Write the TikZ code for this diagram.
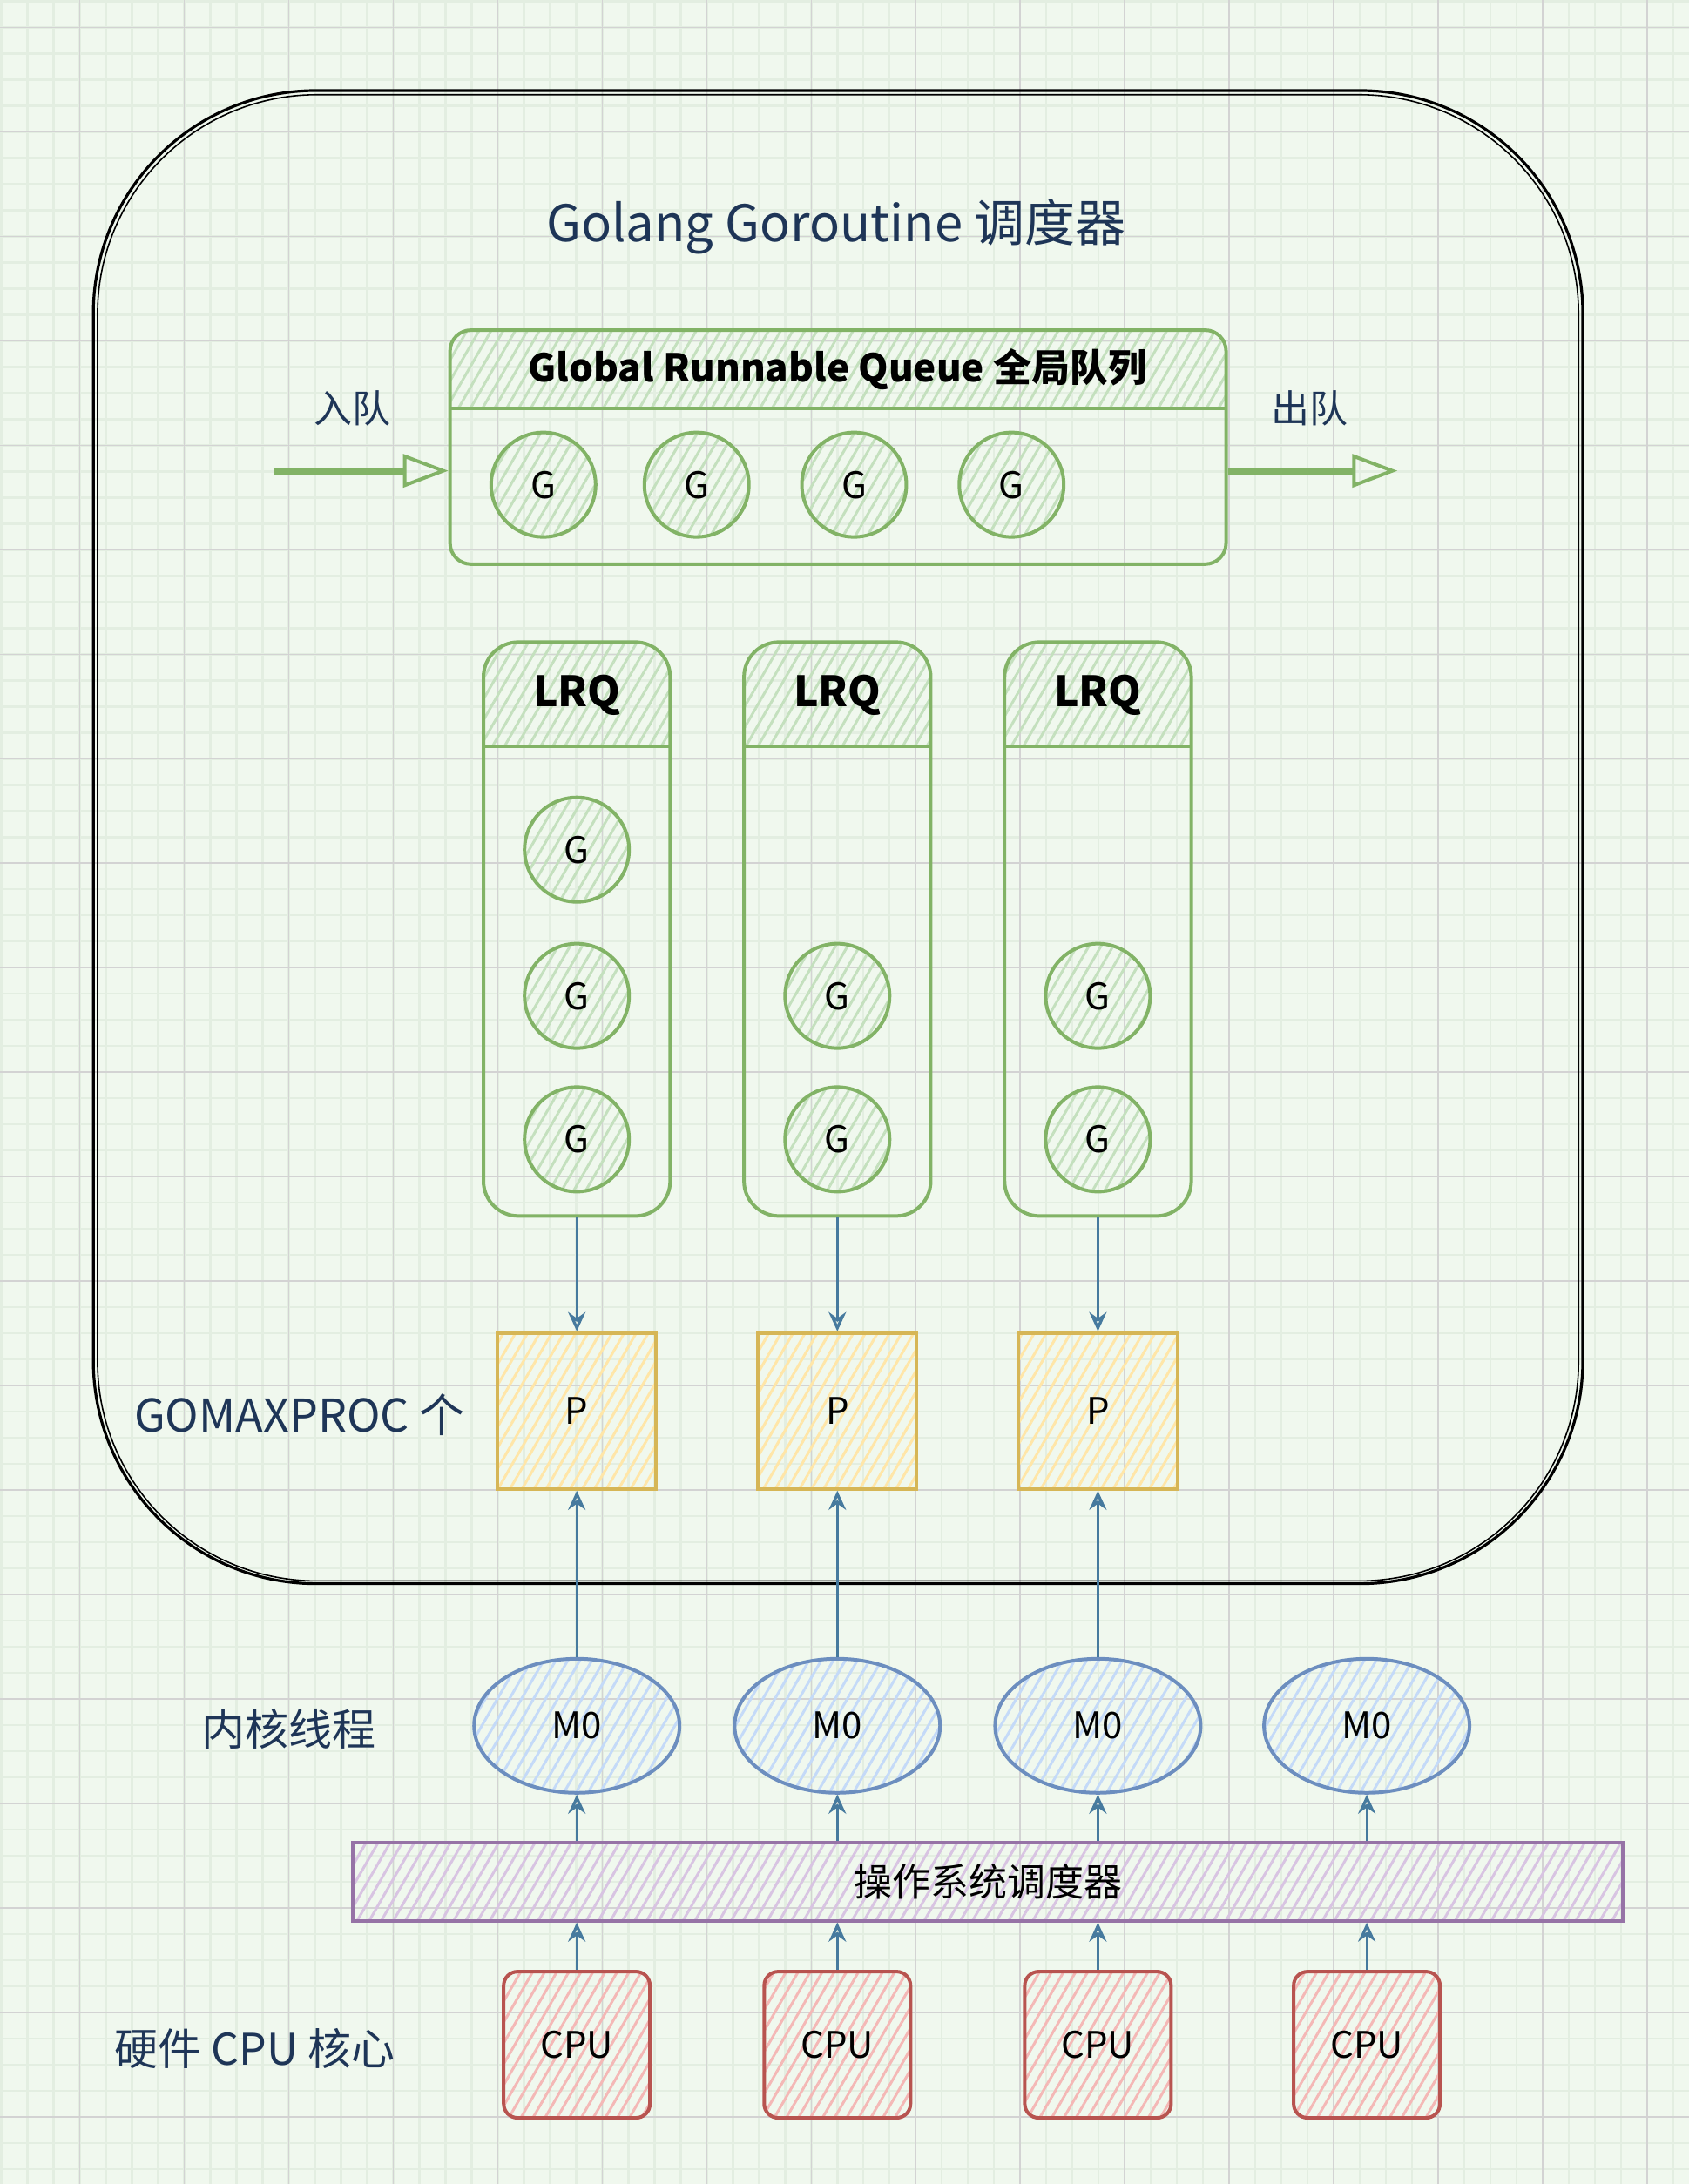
\documentclass[tikz,border=0pt]{standalone}
\usepackage{fontspec}
\setmainfont{Noto Sans CJK SC}
\usetikzlibrary{shapes.geometric,arrows.meta,patterns.meta}

\definecolor{paper}{RGB}{240,248,238}
\definecolor{minorgrid}{RGB}{227,238,225}
\definecolor{majorgrid}{RGB}{211,211,211}
\definecolor{navy}{RGB}{30,53,87}
\definecolor{gline}{RGB}{130,179,102}
\definecolor{gfill}{RGB}{196,224,190}
\definecolor{yline}{RGB}{214,182,86}
\definecolor{yfill}{RGB}{255,230,168}
\definecolor{bline}{RGB}{108,142,191}
\definecolor{bfill}{RGB}{196,218,248}
\definecolor{rline}{RGB}{184,84,80}
\definecolor{rfill}{RGB}{244,184,182}
\definecolor{pline}{RGB}{150,115,166}
\definecolor{pfill}{RGB}{216,196,226}
\definecolor{arrowblue}{RGB}{70,122,158}

\begin{document}
\begin{tikzpicture}[x=0.8pt, y=-0.8pt, thick,
    hatch/.style={pattern={Lines[angle=60,distance=6pt,line width=1.5pt]}},
    side text/.style={text=navy, font=\fontsize{22}{26}\selectfont},
    head text/.style={text=black, font=\fontsize{22}{26}\selectfont\bfseries},
    queue box/.style={draw=gline, line width=2pt, rounded corners=12pt,
                      minimum width=445.6pt, minimum height=134.4pt},
    lrq box/.style={draw=gline, line width=2pt, rounded corners=20pt,
                    minimum width=107.2pt, minimum height=329.6pt},
    g node/.style={circle, draw=gline, line width=2pt, hatch, pattern color=gfill,
                   minimum size=60pt, inner sep=0pt, font=\fontsize{21}{25}\selectfont},
    p node/.style={draw=yline, line width=2pt, hatch, pattern color=yfill,
                   minimum width=91.2pt, minimum height=89.6pt, font=\fontsize{21}{25}\selectfont},
    m node/.style={ellipse, draw=bline, line width=2pt, hatch, pattern color=bfill,
                   minimum width=118pt, minimum height=77pt, font=\fontsize{21}{25}\selectfont},
    os node/.style={draw=pline, line width=2pt, hatch, pattern color=pfill,
                    minimum width=729.6pt, minimum height=44.8pt, font=\fontsize{22}{26}\selectfont},
    cpu node/.style={draw=rline, line width=2pt, hatch, pattern color=rfill, rounded corners=8pt,
                     minimum width=84pt, minimum height=84pt, font=\fontsize{21}{25}\selectfont},
    link/.style={draw=arrowblue, line width=1.6pt, -{Stealth[open, length=11pt, width=10pt]}},
    queue arrow/.style={draw=gline, line width=4pt,
                        -{Triangle[open, length=26pt, width=19pt, line width=2pt]}}]

  % paper and grid
  \useasboundingbox (0,0) rectangle (1212,1568);
  \fill[paper] (0,0) rectangle (1212,1568);
  \foreach \i in {0,...,64} \draw[minorgrid, line width=1.2pt] ({1+18.75*\i},0) -- ({1+18.75*\i},1568);
  \foreach \i in {0,...,83} \draw[minorgrid, line width=1.2pt] (0,{1+18.75*\i}) -- (1212,{1+18.75*\i});
  \foreach \i in {0,...,15} \draw[majorgrid, line width=0.8pt] ({57.25+75*\i},0) -- ({57.25+75*\i},1568);
  \foreach \i in {0,...,20} \draw[majorgrid, line width=0.8pt] (0,{19.75+75*\i}) -- (1212,{19.75+75*\i});

  % scheduler frame
  \draw[black, line width=1.6pt, rounded corners=128pt] (67,65) rectangle (1136,1137);
  \draw[black, line width=0.8pt, rounded corners=126pt] (70,68) rectangle (1133,1135);
  \node[text=navy, font=\fontsize{29}{34}\selectfont] (title) at (600,163) {Golang Goroutine 调度器};

  % global queue
  \begin{scope}
    \clip[rounded corners=12pt] (323,237) rectangle (880,405);
    \path[hatch, pattern color=gfill] (323,237) rectangle (880,293);
  \end{scope}
  \node[queue box] (gq) at (601.5,321) {};
  \draw[gline, line width=2pt] (323,293) -- (880,293);
  \node[head text] (gqt) at (601,265) {Global Runnable Queue 全局队列};

  \node[g node] (g1) at (390,348) {G};
  \node[g node] (g2) at (500,348) {G};
  \node[g node] (g3) at (613,348) {G};
  \node[g node] (g4) at (726,348) {G};

  \node[side text] (enq) at (253,293) {入队};
  \node[side text] (deq) at (940,293) {出队};
  \coordinate (in) at (197,338);
  \coordinate (out) at (1003,338);
  \draw[queue arrow] (in) -- (in -| gq.west);
  \draw[queue arrow] (out -| gq.east) -- (out);

  % local run queues
  \begin{scope}
    \clip[rounded corners=20pt] (347,461) rectangle (481,873);
    \path[hatch, pattern color=gfill] (347,461) rectangle (481,536);
  \end{scope}
  \begin{scope}
    \clip[rounded corners=20pt] (534,461) rectangle (668,873);
    \path[hatch, pattern color=gfill] (534,461) rectangle (668,536);
  \end{scope}
  \begin{scope}
    \clip[rounded corners=20pt] (721,461) rectangle (855,873);
    \path[hatch, pattern color=gfill] (721,461) rectangle (855,536);
  \end{scope}
  \node[lrq box] (l1) at (414,667) {};
  \node[lrq box] (l2) at (601,667) {};
  \node[lrq box] (l3) at (788,667) {};
  \draw[gline, line width=2pt] (347,536) -- (481,536);
  \draw[gline, line width=2pt] (534,536) -- (668,536);
  \draw[gline, line width=2pt] (721,536) -- (855,536);
  \node[head text, font=\fontsize{24}{28}\selectfont\bfseries] (lt1) at (414,499) {LRQ};
  \node[head text, font=\fontsize{24}{28}\selectfont\bfseries] (lt2) at (601,499) {LRQ};
  \node[head text, font=\fontsize{24}{28}\selectfont\bfseries] (lt3) at (788,499) {LRQ};

  \node[g node] (lg11) at (414,610) {G};
  \node[g node] (lg12) at (414,715) {G};
  \node[g node] (lg13) at (414,818) {G};
  \node[g node] (lg22) at (601,715) {G};
  \node[g node] (lg23) at (601,818) {G};
  \node[g node] (lg32) at (788,715) {G};
  \node[g node] (lg33) at (788,818) {G};

  % processors
  \node[p node] (p1) at (414,1013) {P};
  \node[p node] (p2) at (601,1013) {P};
  \node[p node] (p3) at (788,1013) {P};
  \node[side text, font=\fontsize{26}{30}\selectfont] (gomax) at (215,1016) {GOMAXPROC 个};

  % kernel threads
  \node[m node] (m1) at (414,1239) {M0};
  \node[m node] (m2) at (601,1239) {M0};
  \node[m node] (m3) at (788,1239) {M0};
  \node[m node] (m4) at (981,1239) {M0};
  \node[side text, font=\fontsize{25}{30}\selectfont] (kt) at (207,1241) {内核线程};

  % os scheduler and cores
  \node[os node] (os) at (709,1351) {操作系统调度器};
  \node[cpu node] (c1) at (414,1468) {CPU};
  \node[cpu node] (c2) at (601,1468) {CPU};
  \node[cpu node] (c3) at (788,1468) {CPU};
  \node[cpu node] (c4) at (981,1468) {CPU};
  \node[side text, font=\fontsize{25}{30}\selectfont] (hw) at (183,1471) {硬件 CPU 核心};

  \path
  (l1) edge[link] (p1)
  (l2) edge[link] (p2)
  (l3) edge[link] (p3)
  (m1) edge[link] (p1)
  (m2) edge[link] (p2)
  (m3) edge[link] (p3);

  \draw[link] (os.north -| m1) -- (m1);
  \draw[link] (os.north -| m2) -- (m2);
  \draw[link] (os.north -| m3) -- (m3);
  \draw[link] (os.north -| m4) -- (m4);
  \draw[link] (c1) -- (c1 |- os.south);
  \draw[link] (c2) -- (c2 |- os.south);
  \draw[link] (c3) -- (c3 |- os.south);
  \draw[link] (c4) -- (c4 |- os.south);

\end{tikzpicture}
\end{document}
